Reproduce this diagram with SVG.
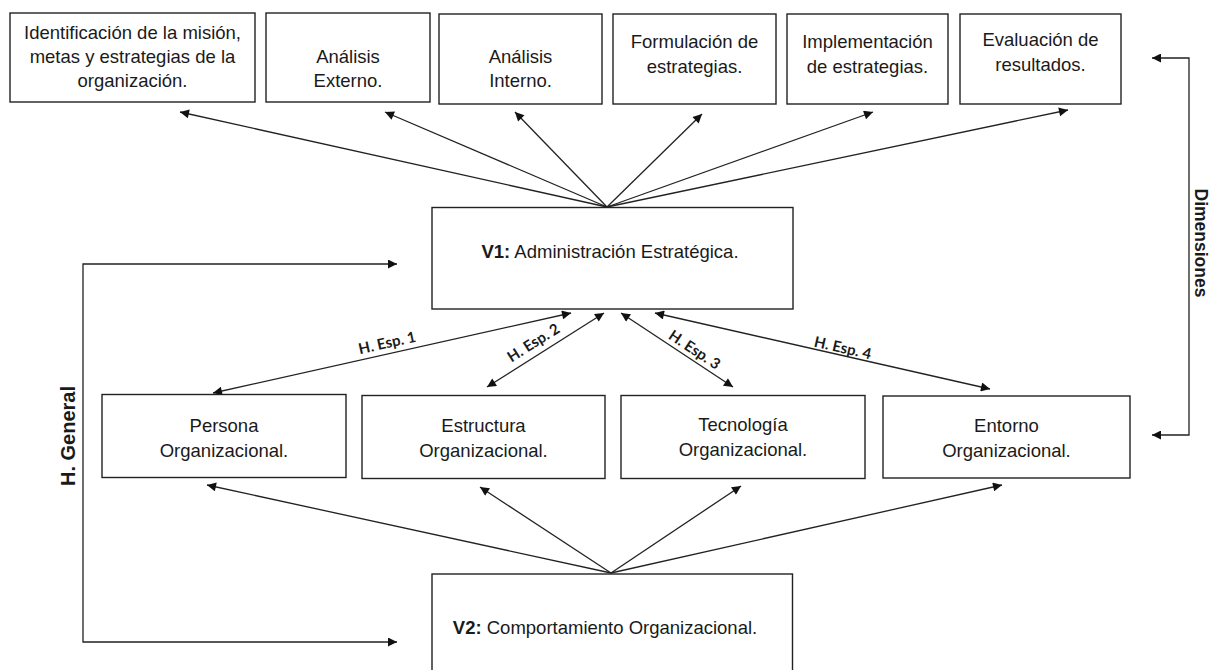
<svg xmlns="http://www.w3.org/2000/svg" width="1211" height="670" viewBox="0 0 1211 670">
  <defs>
    <style>
      .box { fill: #ffffff; stroke: #222222; stroke-width: 1.4; }
      .lbl { font-family: "Liberation Sans", Arial, sans-serif; font-size: 18.5px; fill: #1a1a1a; text-anchor: middle; }
      .bold { font-weight: bold; }
      .hyp { font-family: Lato, "Open Sans", sans-serif; font-size: 15px; font-weight: bold; fill: #1a1a1a; text-anchor: middle; dominant-baseline: central; }
      .side { font-family: "Liberation Sans", Arial, sans-serif; font-weight: bold; fill: #1a1a1a; text-anchor: middle; dominant-baseline: central; }
      .conn { fill: none; stroke: #222222; stroke-width: 1.3; }
    </style>
    <marker id="arrow" viewBox="0 0 10 10" refX="10" refY="5" markerWidth="12" markerHeight="9" markerUnits="userSpaceOnUse" orient="auto-start-reverse">
      <path d="M0,0 L10,5 L0,10 Z" fill="#111111"/>
    </marker>
  </defs>

  <rect width="1211" height="670" fill="#ffffff"/>

  <!-- Connectors -->
  <g id="connectors">
    <!-- V1 to the six stages -->
    <line class="conn" x1="607" y1="207" x2="180" y2="112" marker-end="url(#arrow)"/>
    <line class="conn" x1="607" y1="207" x2="385" y2="112" marker-end="url(#arrow)"/>
    <line class="conn" x1="607" y1="207" x2="515" y2="112" marker-end="url(#arrow)"/>
    <line class="conn" x1="607" y1="207" x2="702" y2="114" marker-end="url(#arrow)"/>
    <line class="conn" x1="607" y1="207" x2="873" y2="112" marker-end="url(#arrow)"/>
    <line class="conn" x1="607" y1="207" x2="1068" y2="110" marker-end="url(#arrow)"/>

    <!-- Specific hypotheses (two-way) -->
    <line class="conn" x1="571" y1="313" x2="213" y2="393" marker-start="url(#arrow)" marker-end="url(#arrow)"/>
    <line class="conn" x1="604" y1="313" x2="487" y2="387" marker-start="url(#arrow)" marker-end="url(#arrow)"/>
    <line class="conn" x1="621" y1="313" x2="733" y2="387" marker-start="url(#arrow)" marker-end="url(#arrow)"/>
    <line class="conn" x1="655" y1="313" x2="990" y2="389" marker-start="url(#arrow)" marker-end="url(#arrow)"/>

    <!-- V2 to the four dimensions -->
    <line class="conn" x1="611" y1="573" x2="207" y2="485" marker-end="url(#arrow)"/>
    <line class="conn" x1="611" y1="573" x2="480" y2="487" marker-end="url(#arrow)"/>
    <line class="conn" x1="611" y1="573" x2="741" y2="486" marker-end="url(#arrow)"/>
    <line class="conn" x1="611" y1="573" x2="1002" y2="485" marker-end="url(#arrow)"/>

    <!-- General hypothesis bracket -->
    <path class="conn" d="M397,264 H83 V642 H397" marker-start="url(#arrow)" marker-end="url(#arrow)"/>
    <!-- Dimensions bracket -->
    <path class="conn" d="M1152,58 H1189 V435 H1152" marker-start="url(#arrow)" marker-end="url(#arrow)"/>

    <!-- Connector labels -->
    <text class="hyp" transform="translate(387,342) rotate(-12.6)">H. Esp. 1</text>
    <text class="hyp" transform="translate(533,342) rotate(-32.3)">H. Esp. 2</text>
    <text class="hyp" transform="translate(695,349) rotate(33.5)">H. Esp. 3</text>
    <text class="hyp" transform="translate(843,347) rotate(12.8)">H. Esp. 4</text>

    <text class="side" font-size="20" transform="translate(68,436) rotate(-90)">H. General</text>
    <text class="side" font-size="17.5" transform="translate(1201,243) rotate(90)">Dimensiones</text>
  </g>

  <!-- Stages of strategic management -->
  <g id="mision">
    <rect class="box" x="10" y="13" width="245" height="89"/>
    <text class="lbl" x="132.5" y="39">Identificación de la misión,</text>
    <text class="lbl" x="132.5" y="63">metas y estrategias de la</text>
    <text class="lbl" x="132.5" y="87">organización.</text>
  </g>
  <g id="analisis-externo">
    <rect class="box" x="266" y="13" width="164" height="89"/>
    <text class="lbl" x="348" y="63">Análisis</text>
    <text class="lbl" x="348" y="87">Externo.</text>
  </g>
  <g id="analisis-interno">
    <rect class="box" x="439" y="14" width="163" height="90"/>
    <text class="lbl" x="520.5" y="63">Análisis</text>
    <text class="lbl" x="520.5" y="87">Interno.</text>
  </g>
  <g id="formulacion">
    <rect class="box" x="613" y="14" width="163" height="90"/>
    <text class="lbl" x="694.5" y="48">Formulación de</text>
    <text class="lbl" x="694.5" y="73">estrategias.</text>
  </g>
  <g id="implementacion">
    <rect class="box" x="787" y="14" width="161" height="90"/>
    <text class="lbl" x="867.5" y="48">Implementación</text>
    <text class="lbl" x="867.5" y="73">de estrategias.</text>
  </g>
  <g id="evaluacion">
    <rect class="box" x="960" y="14" width="161" height="90"/>
    <text class="lbl" x="1040.5" y="46">Evaluación de</text>
    <text class="lbl" x="1040.5" y="71">resultados.</text>
  </g>

  <!-- Variable 1 -->
  <g id="v1">
    <rect class="box" x="432" y="207.5" width="361" height="101.5"/>
    <text class="lbl" x="610" y="258"><tspan class="bold">V1:</tspan> Administración Estratégica.</text>
  </g>

  <!-- Dimensions of organizational behaviour -->
  <g id="persona">
    <rect class="box" x="102" y="394.5" width="244" height="83"/>
    <text class="lbl" x="224" y="432">Persona</text>
    <text class="lbl" x="224" y="457">Organizacional.</text>
  </g>
  <g id="estructura">
    <rect class="box" x="362" y="395.5" width="243" height="83"/>
    <text class="lbl" x="483.5" y="432">Estructura</text>
    <text class="lbl" x="483.5" y="457">Organizacional.</text>
  </g>
  <g id="tecnologia">
    <rect class="box" x="621" y="395.5" width="244" height="83"/>
    <text class="lbl" x="743" y="431">Tecnología</text>
    <text class="lbl" x="743" y="456">Organizacional.</text>
  </g>
  <g id="entorno">
    <rect class="box" x="883" y="396" width="247" height="82"/>
    <text class="lbl" x="1006.5" y="432">Entorno</text>
    <text class="lbl" x="1006.5" y="457">Organizacional.</text>
  </g>

  <!-- Variable 2 -->
  <g id="v2">
    <rect class="box" x="432" y="574" width="360.5" height="110"/>
    <text class="lbl" x="605" y="634"><tspan class="bold">V2:</tspan> Comportamiento Organizacional.</text>
  </g>
</svg>
